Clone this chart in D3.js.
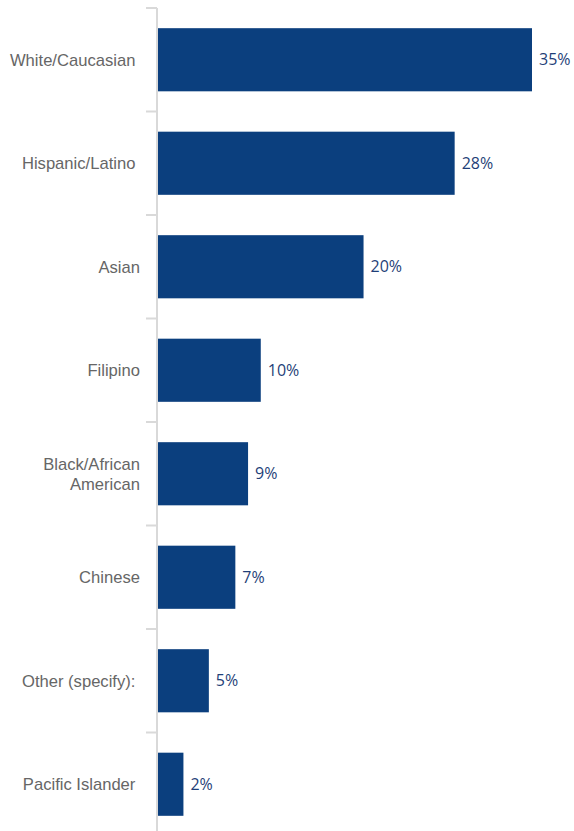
<!DOCTYPE html>
<html><head><meta charset="utf-8">
<script src="https://cdn.jsdelivr.net/npm/d3@7"></script>
<style>html,body{margin:0;padding:0;background:#fff;}</style>
</head><body>
<svg id="chart" width="574" height="831"></svg>
<script>
const categories = ["White/Caucasian ", "Hispanic/Latino ", "Asian", "Filipino", "Black/African American", "Chinese", "Other (specify): ", "Pacific Islander "];
const values = [35.3, 28.0, 19.4, 9.7, 8.5, 7.3, 4.8, 2.4];
const labels = ["35%", "28%", "20%", "10%", "9%", "7%", "5%", "2%"];

const svg = d3.select("#chart");
const x = d3.scaleLinear().domain([0, 35.3]).range([158, 532]);
const y = d3.scaleBand().domain(categories).range([8, 836]).paddingInner(0.39).paddingOuter(0.195);

const data = categories.map((c, i) => ({c, v: values[i], l: labels[i]}));

svg.selectAll("rect.bar").data(data).join("rect")
  .attr("class", "bar")
  .attr("x", x(0))
  .attr("y", d => y(d.c))
  .attr("width", d => x(d.v) - x(0))
  .attr("height", y.bandwidth())
  .attr("fill", "#0B3F7E");

// axis line and ticks
const step = y.step();
svg.append("line").attr("x1", 157).attr("x2", 157).attr("y1", 8).attr("y2", 836)
  .attr("stroke", "#d9d9d9").attr("stroke-width", 2);
const tickYs = d3.range(categories.length + 1).map(i => 8 + i * step);
svg.selectAll("line.tick").data(tickYs).join("line")
  .attr("class", "tick")
  .attr("x1", 146).attr("x2", 157)
  .attr("y1", d => d).attr("y2", d => d)
  .attr("stroke", "#d9d9d9").attr("stroke-width", 2);

// category labels
const catG = svg.selectAll("text.cat").data(data).join("text")
  .attr("class", "cat")
  .attr("x", 140)
  .attr("text-anchor", "end")
  .attr("fill", "#666666")
  .style("font-family", "'Liberation Sans', Arial, sans-serif")
  .style("font-size", "16.6px")
  .style("white-space", "pre");
catG.each(function(d) {
  const t = d3.select(this);
  const cy = y(d.c) + y.bandwidth() / 2;
  let lines = d.c === "Black/African American" ? ["Black/African", "American"] : [d.c];
  const lh = 20;
  lines.forEach((ln, j) => {
    t.append("tspan").attr("x", 140)
      .attr("y", cy + (j - (lines.length - 1) / 2) * lh)
      .attr("dy", "0.35em")
      .text(ln);
  });
});

// value labels
svg.selectAll("text.val").data(data).join("text")
  .attr("class", "val")
  .attr("x", d => x(d.v) + 7)
  .attr("y", d => y(d.c) + y.bandwidth() / 2)
  .attr("dy", "0.35em")
  .attr("fill", "#1F3F78")
  .style("font-family", "'Open Sans', sans-serif")
  .style("font-size", "16px")
  .text(d => d.l);
</script>
</body></html>
